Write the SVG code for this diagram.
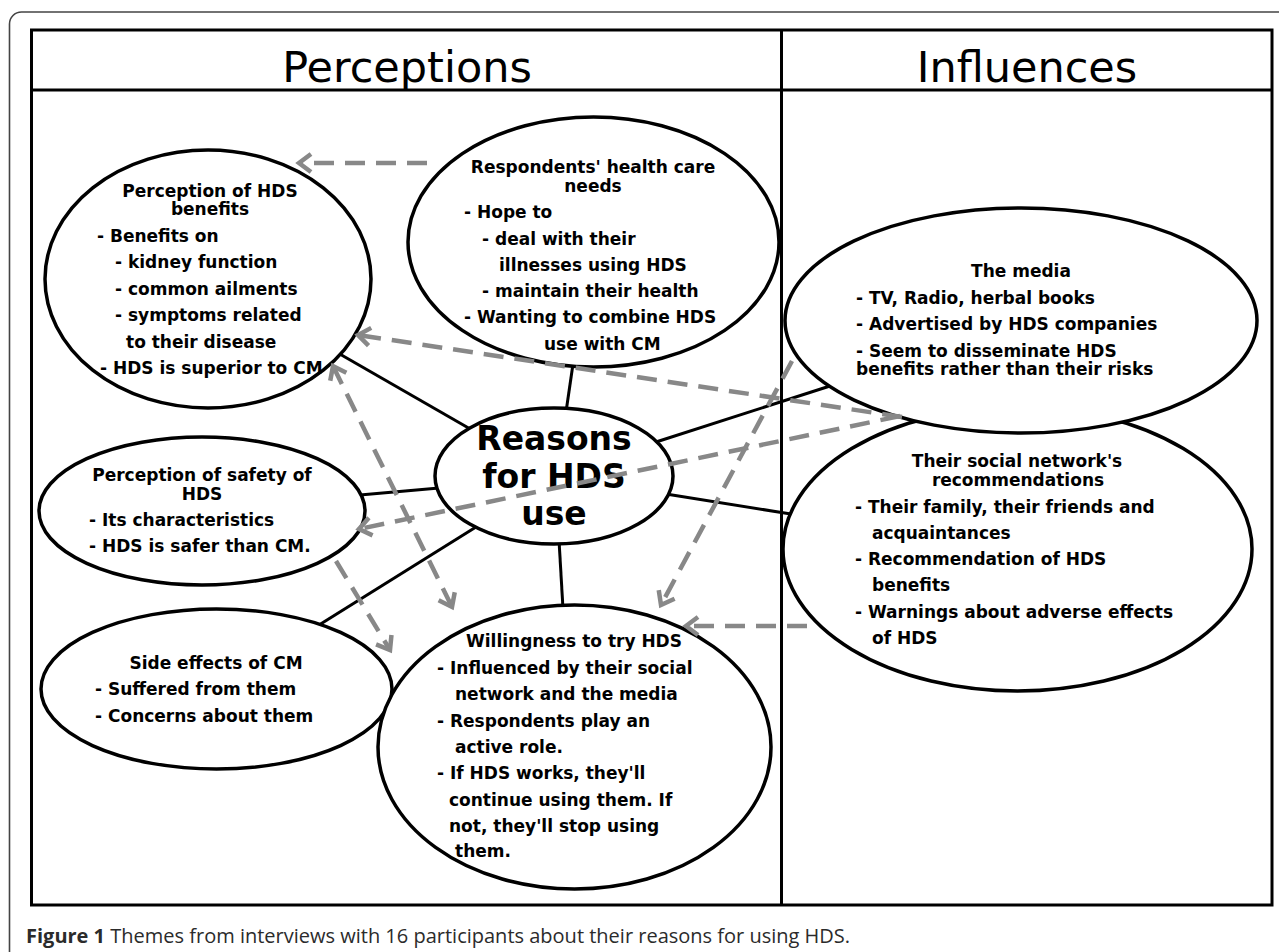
<svg xmlns="http://www.w3.org/2000/svg" width="1279" height="952" viewBox="0 0 1279 952">
<style>
.frame{fill:none;stroke:#444;stroke-width:1.6}
.tbl{fill:none;stroke:#000;stroke-width:3}
.hdr{font-family:"DejaVu Sans",sans-serif;font-size:43px;fill:#000;text-anchor:middle}
.node ellipse{fill:#fff;stroke:#000;stroke-width:3.5}
.t{font-family:"DejaVu Sans",sans-serif;font-weight:bold;font-size:17px;fill:#000}
.c{text-anchor:middle}
.big{font-family:"DejaVu Sans",sans-serif;font-weight:bold;font-size:33px;fill:#000;text-anchor:middle}
.link{stroke:#000;stroke-width:3;fill:none}
.dash{stroke:#888;stroke-width:4.5;fill:none;stroke-dasharray:20 11}
.cap{font-family:"Open Sans",sans-serif;font-size:20px;fill:#2b2b2b}
</style>
<defs>
<marker id="ah" markerUnits="userSpaceOnUse" markerWidth="24" markerHeight="24" viewBox="0 0 24 24" refX="20" refY="12" orient="auto-start-reverse">
<path d="M8,3 L20,12 L8,21" fill="none" stroke="#888" stroke-width="4.5" stroke-dasharray="none"/>
</marker>
</defs>
<rect width="1279" height="952" fill="#fff"/>
<path class="frame" d="M9.5,952 L9.5,24 A12,12 0 0 1 21.5,12 L1279,12"/>
<g id="table">
<rect class="tbl" x="31.5" y="30" width="1240.5" height="875"/>
<line class="tbl" x1="31.5" y1="90" x2="1272" y2="90"/>
<line class="tbl" x1="781.5" y1="30" x2="781.5" y2="905"/>
<text class="hdr" x="407" y="82">Perceptions</text>
<text class="hdr" x="1027" y="82">Influences</text>
</g>
<g id="connectors">
<line class="link" x1="338" y1="353" x2="472" y2="430"/>
<line class="link" x1="573" y1="364" x2="566" y2="412"/>
<line class="link" x1="360" y1="495" x2="439" y2="488"/>
<line class="link" x1="319" y1="625" x2="476" y2="527"/>
<line class="link" x1="559" y1="540" x2="563" y2="609"/>
<line class="link" x1="656" y1="442" x2="830" y2="386"/>
<line class="link" x1="666" y1="494" x2="791" y2="514"/>
</g>
<g id="node-benefits" class="node">
<ellipse cx="208" cy="279" rx="163" ry="129"/>
<text class="t c" x="210" y="197">Perception of HDS</text>
<text class="t c" x="210" y="215">benefits</text>
<text class="t" x="97" y="242">- Benefits on</text>
<text class="t" x="115" y="268">- kidney function</text>
<text class="t" x="115" y="295">- common ailments</text>
<text class="t" x="115" y="321">- symptoms related</text>
<text class="t" x="126" y="348">to their disease</text>
<text class="t" x="100" y="374">- HDS is superior to CM</text>
</g>
<g id="node-needs" class="node">
<ellipse cx="593.5" cy="242" rx="185.5" ry="125"/>
<text class="t c" x="593" y="173">Respondents' health care</text>
<text class="t c" x="593" y="192">needs</text>
<text class="t" x="464" y="218">- Hope to</text>
<text class="t" x="482" y="245">- deal with their</text>
<text class="t" x="499" y="271">illnesses using HDS</text>
<text class="t" x="482" y="297">- maintain their health</text>
<text class="t" x="464" y="323">- Wanting to combine HDS</text>
<text class="t" x="544" y="350">use with CM</text>
</g>
<g id="node-safety" class="node">
<ellipse cx="202" cy="511" rx="163" ry="74"/>
<text class="t c" x="202" y="481">Perception of safety of</text>
<text class="t c" x="202" y="500">HDS</text>
<text class="t" x="89" y="526">- Its characteristics</text>
<text class="t" x="89" y="552">- HDS is safer than CM.</text>
</g>
<g id="node-sideeffects" class="node">
<ellipse cx="216.5" cy="689" rx="175.5" ry="80"/>
<text class="t c" x="216" y="669">Side effects of CM</text>
<text class="t" x="95" y="695">- Suffered from them</text>
<text class="t" x="95" y="722">- Concerns about them</text>
</g>
<g id="node-willingness" class="node">
<ellipse cx="574.5" cy="747" rx="196.5" ry="142"/>
<text class="t c" x="574" y="647">Willingness to try HDS</text>
<text class="t" x="437" y="674">- Influenced by their social</text>
<text class="t" x="455" y="700">network and the media</text>
<text class="t" x="437" y="727">- Respondents play an</text>
<text class="t" x="455" y="753">active role.</text>
<text class="t" x="437" y="779">- If HDS works, they'll</text>
<text class="t" x="449" y="806">continue using them. If</text>
<text class="t" x="449" y="832">not, they'll stop using</text>
<text class="t" x="455" y="857">them.</text>
</g>
<g id="node-social" class="node">
<ellipse cx="1017.5" cy="549" rx="234.5" ry="142"/>
<text class="t c" x="1017" y="467">Their social network's</text>
<text class="t c" x="1018" y="486">recommendations</text>
<text class="t" x="855" y="513">- Their family, their friends and</text>
<text class="t" x="872" y="539">acquaintances</text>
<text class="t" x="855" y="565">- Recommendation of HDS</text>
<text class="t" x="872" y="591">benefits</text>
<text class="t" x="855" y="618">- Warnings about adverse effects</text>
<text class="t" x="872" y="644">of HDS</text>
</g>
<g id="node-media" class="node">
<ellipse cx="1021" cy="320.5" rx="236" ry="112.5"/>
<text class="t c" x="1021" y="277">The media</text>
<text class="t" x="856" y="304">- TV, Radio, herbal books</text>
<text class="t" x="856" y="330">- Advertised by HDS companies</text>
<text class="t" x="856" y="357">- Seem to disseminate HDS</text>
<text class="t" x="856" y="375">benefits rather than their risks</text>
</g>
<g id="node-reasons" class="node">
<ellipse cx="554" cy="476" rx="119" ry="68"/>
<text class="big" x="554" y="450">Reasons</text>
<text class="big" x="554" y="488">for HDS</text>
<text class="big" x="554" y="525">use</text>
</g>
<g id="dashed-connectors">
<path class="dash" d="M427,163 L299,163" marker-end="url(#ah)"/>
<path class="dash" d="M902,417 L358,335" marker-end="url(#ah)"/>
<path class="dash" d="M900,416 L359,529" marker-end="url(#ah)"/>
<path class="dash" d="M792,361 L661,605" marker-end="url(#ah)"/>
<path class="dash" d="M807,626 L686,626" marker-end="url(#ah)"/>
<path class="dash" d="M333,366 L452,607" marker-start="url(#ah)" marker-end="url(#ah)"/>
<path class="dash" d="M336,561 L390,650" marker-end="url(#ah)"/>
</g>
<text class="cap" x="26" y="943"><tspan font-weight="bold">Figure 1</tspan> Themes from interviews with 16 participants about their reasons for using HDS.</text>
</svg>
